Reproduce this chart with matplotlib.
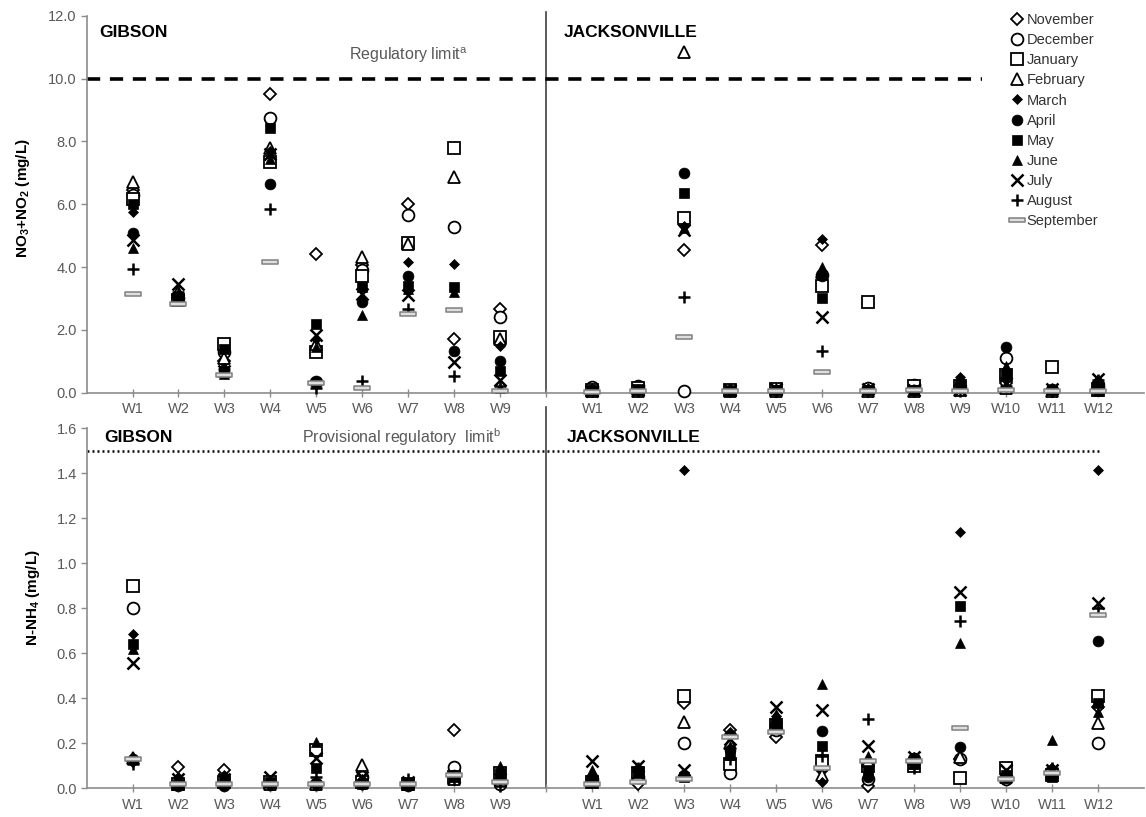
import numpy as np
import matplotlib
matplotlib.use("Agg")
import matplotlib.pyplot as plt
from matplotlib.path import Path

plt.rcParams['font.family'] = ['Liberation Sans', 'DejaVu Sans']
plt.rcParams['mathtext.fontset'] = 'custom'
plt.rcParams['mathtext.rm'] = 'Liberation Sans'
plt.rcParams['mathtext.bf'] = 'Liberation Sans:bold'
plt.rcParams['lines.scale_dashes'] = False

# ---------------- data ----------------
months = ["November", "December", "January", "February", "March", "April",
          "May", "June", "July", "August", "September"]
gibson_wells = ["W1", "W2", "W3", "W4", "W5", "W6", "W7", "W8", "W9"]
jack_wells = ["W1", "W2", "W3", "W4", "W5", "W6", "W7", "W8", "W9", "W10", "W11", "W12"]

# NO3+NO2 (mg/L), rows = months (Nov..Sep), cols = wells
no3_gibson = [
    [6.45, 3.10, 1.00, 9.50, 4.42, 4.05, 6.00, 1.72, 2.65],
    [6.30, 3.00, 1.30, 8.75, 0.35, 3.90, 5.65, 5.28, 2.40],
    [6.15, 2.95, 1.55, 7.35, 1.30, 3.70, 4.78, 7.80, 1.77],
    [6.72, 3.20, 1.10, 7.80, 1.55, 4.32, 4.72, 6.87, 1.70],
    [5.76, 3.10, 0.80, 7.70, 1.70, 3.00, 4.16, 4.11, 1.50],
    [5.07, 3.00, 0.70, 6.63, 0.35, 2.90, 3.72, 1.34, 1.02],
    [6.00, 3.05, 1.40, 8.42, 2.20, 3.36, 3.40, 3.35, 0.70],
    [4.60, 3.00, 0.60, 7.45, 1.45, 2.46, 3.30, 3.20, 0.15],
    [4.85, 3.45, 0.70, 7.60, 1.85, 3.15, 3.10, 0.97, 0.40],
    [3.93, 3.20, 0.75, 5.84, 0.15, 0.38, 2.68, 0.54, 0.20],
    [3.14, 2.82, 0.55, 4.16, 0.30, 0.16, 2.52, 2.62, 0.05],
]
no3_jack = [
    [0.10, 0.10, 4.53, 0.05, 0.05, 4.70, 0.05, 0.10, 0.20, 0.30, 0.05, 0.30],
    [0.18, 0.20, 0.05, 0.10, 0.10, 3.75, 0.15, 0.25, 0.15, 1.10, 0.10, 0.20],
    [0.10, 0.15, 5.55, 0.10, 0.12, 3.40, 2.90, 0.20, 0.20, 0.55, 0.82, 0.10],
    [0.05, 0.05, 10.86, 0.05, 0.05, 3.85, 0.05, 0.05, 0.10, 0.15, 0.05, 0.35],
    [0.12, 0.10, 5.30, 0.12, 0.10, 4.88, 0.12, 0.10, 0.50, 0.40, 0.10, 0.40],
    [0.10, 0.10, 6.98, 0.08, 0.08, 3.72, 0.10, 0.08, 0.30, 1.47, 0.10, 0.30],
    [0.08, 0.12, 6.36, 0.05, 0.10, 3.00, 0.08, 0.10, 0.15, 0.55, 0.08, 0.05],
    [0.15, 0.10, 5.25, 0.12, 0.15, 4.00, 0.15, 0.10, 0.25, 0.85, 0.15, 0.35],
    [0.05, 0.08, 5.17, 0.10, 0.12, 2.40, 0.12, 0.08, 0.10, 0.30, 0.12, 0.45],
    [0.05, 0.05, 3.06, 0.10, 0.05, 1.34, 0.10, 0.05, 0.05, 0.20, 0.05, 0.40],
    [0.02, 0.05, 1.78, 0.05, 0.05, 0.65, 0.05, 0.10, 0.05, 0.10, 0.05, 0.05],
]
# N-NH4 (mg/L)
nh4_gibson = [
    [0.120, 0.095, 0.080, 0.020, 0.020, 0.030, 0.020, 0.258, 0.030],
    [0.800, 0.030, 0.020, 0.020, 0.020, 0.050, 0.020, 0.095, 0.020],
    [0.900, 0.020, 0.030, 0.030, 0.170, 0.030, 0.020, 0.050, 0.070],
    [0.135, 0.020, 0.030, 0.020, 0.020, 0.102, 0.020, 0.040, 0.050],
    [0.685, 0.050, 0.060, 0.030, 0.020, 0.040, 0.030, 0.050, 0.060],
    [0.130, 0.010, 0.010, 0.020, 0.020, 0.020, 0.010, 0.060, 0.040],
    [0.640, 0.020, 0.040, 0.030, 0.088, 0.020, 0.020, 0.050, 0.070],
    [0.620, 0.050, 0.050, 0.030, 0.206, 0.030, 0.030, 0.060, 0.100],
    [0.555, 0.040, 0.040, 0.050, 0.133, 0.050, 0.030, 0.050, 0.040],
    [0.110, 0.030, 0.030, 0.020, 0.050, 0.020, 0.040, 0.040, 0.010],
    [0.130, 0.020, 0.020, 0.020, 0.020, 0.020, 0.020, 0.060, 0.030],
]
nh4_jack = [
    [0.03, 0.02, 0.380, 0.26, 0.23, 0.080, 0.01, 0.12, 0.130, 0.05, 0.080, 0.360],
    [0.04, 0.05, 0.200, 0.07, 0.26, 0.100, 0.04, 0.13, 0.130, 0.04, 0.070, 0.200],
    [0.03, 0.07, 0.410, 0.11, 0.28, 0.120, 0.10, 0.10, 0.045, 0.09, 0.060, 0.410],
    [0.05, 0.06, 0.295, 0.20, 0.30, 0.060, 0.12, 0.13, 0.140, 0.05, 0.070, 0.290],
    [0.06, 0.09, 1.415, 0.25, 0.32, 0.030, 0.06, 0.14, 1.140, 0.06, 0.090, 1.415],
    [0.04, 0.08, 0.060, 0.17, 0.30, 0.255, 0.05, 0.12, 0.185, 0.05, 0.060, 0.655],
    [0.03, 0.07, 0.050, 0.15, 0.27, 0.190, 0.08, 0.11, 0.810, 0.06, 0.050, 0.380],
    [0.08, 0.08, 0.065, 0.19, 0.33, 0.465, 0.145, 0.13, 0.645, 0.07, 0.215, 0.340],
    [0.12, 0.10, 0.080, 0.22, 0.36, 0.350, 0.19, 0.14, 0.873, 0.08, 0.080, 0.825],
    [0.05, 0.09, 0.060, 0.13, 0.29, 0.145, 0.31, 0.09, 0.745, 0.06, 0.090, 0.800],
    [0.02, 0.03, 0.040, 0.23, 0.25, 0.090, 0.12, 0.12, 0.268, 0.04, 0.070, 0.770],
]
no3_limit = 10.0
nh4_limit = 1.5

# ---------------- styles ----------------
bar_marker = Path([(-1, -0.3), (1, -0.3), (1, 0.3), (-1, 0.3), (-1, -0.3)],
                  [Path.MOVETO, Path.LINETO, Path.LINETO, Path.LINETO, Path.CLOSEPOLY])
styles = [
    dict(marker='D', ms=6.0, mfc='white', mec='black', mew=1.3),
    dict(marker='o', ms=8.5, mfc='white', mec='black', mew=1.3),
    dict(marker='s', ms=8.0, mfc='white', mec='black', mew=1.3),
    dict(marker='^', ms=8.5, mfc='white', mec='black', mew=1.3),
    dict(marker='D', ms=4.6, mfc='black', mec='black', mew=0.5),
    dict(marker='o', ms=7.8, mfc='black', mec='black', mew=0.5),
    dict(marker='s', ms=7.2, mfc='black', mec='black', mew=0.5),
    dict(marker='^', ms=6.8, mfc='black', mec='black', mew=0.5),
    dict(marker='x', ms=8.0, mfc='black', mec='black', mew=1.8),
    dict(marker='+', ms=8.5, mfc='black', mec='black', mew=1.8),
    dict(marker=bar_marker, ms=11.5, mfc='#dedede', mec='#808080', mew=1.1),
]

gx = np.arange(1, len(gibson_wells) + 1)
divider = len(gibson_wells) + 1
jx = np.arange(divider + 1, divider + 1 + len(jack_wells))
xmax = jx[-1] + 1

grey = '#595959'
spine_c = '#8c8c8c'

fig = plt.figure(figsize=(11.46, 8.17), dpi=100)
ax1 = fig.add_axes([0.07548, 0.51934, 0.92321, 0.46144])
ax2 = fig.add_axes([0.07548, 0.03513, 0.92321, 0.44064])


def style_axes(ax, ymax, ystep, fmt):
    ax.set_xlim(0, xmax)
    ax.set_ylim(0, ymax)
    for s in ['top', 'right']:
        ax.spines[s].set_visible(False)
    for s in ['left', 'bottom']:
        ax.spines[s].set_color(spine_c)
        ax.spines[s].set_linewidth(1.2)
    ticks = list(gx) + [divider] + list(jx)
    labels = list(gibson_wells) + [''] + list(jack_wells)
    ax.set_xticks(ticks)
    ax.set_xticklabels(labels)
    ax.tick_params(axis='x', direction='inout', length=6, width=1, color=spine_c,
                   labelsize=10.5, labelcolor=grey, pad=4)
    yt = np.arange(0, ymax + ystep / 2, ystep)
    ax.set_yticks(yt)
    ax.set_yticklabels([fmt % v for v in yt])
    ax.tick_params(axis='y', direction='out', length=4, width=1, color=spine_c,
                   labelsize=10.5, labelcolor=grey, pad=3)


style_axes(ax1, 12.0, 2.0, '%.1f')
style_axes(ax2, 1.6, 0.2, '%.1f')

handles = []
for i, m in enumerate(months):
    st = styles[i]
    h, = ax1.plot(gx, no3_gibson[i], ls='none', label=m, zorder=3 + i, clip_on=False, **st)
    ax1.plot(jx, no3_jack[i], ls='none', zorder=3 + i, clip_on=False, **st)
    ax2.plot(gx, nh4_gibson[i], ls='none', zorder=3 + i, clip_on=False, **st)
    ax2.plot(jx, nh4_jack[i], ls='none', zorder=3 + i, clip_on=False, **st)
    handles.append(h)

# limits
ax1.plot([0, 19.47], [no3_limit, no3_limit], color='black', lw=2.6,
         dashes=[9.5, 7.0], solid_capstyle='butt', dash_capstyle='butt', zorder=2)
ax2.plot([0, 22.03], [nh4_limit, nh4_limit], color='black', lw=1.8,
         dashes=[1.4, 2.2], zorder=2)

# divider lines
ax1.axvline(divider, ymin=0, ymax=1.01, color='#404040', lw=1.2, clip_on=False, zorder=1)
ax2.axvline(divider, ymin=0, ymax=1.06, color='#404040', lw=1.2, clip_on=False, zorder=1)

# texts
title_fs = 12.5
ax1.text(0.012, 0.955, 'GIBSON', transform=ax1.transAxes, fontsize=title_fs,
         fontweight='bold', va='center', ha='left')
ax1.text(0.4515, 0.955, 'JACKSONVILLE', transform=ax1.transAxes, fontsize=title_fs,
         fontweight='bold', va='center', ha='left')
ax2.text(0.017, 0.975, 'GIBSON', transform=ax2.transAxes, fontsize=title_fs,
         fontweight='bold', va='center', ha='left')
ax2.text(0.4535, 0.975, 'JACKSONVILLE', transform=ax2.transAxes, fontsize=title_fs,
         fontweight='bold', va='center', ha='left')
ax1.text(7.0, 10.75, 'Regulatory limit$^\\mathrm{a}$', fontsize=11.5, color=grey,
         ha='center', va='center')
ax2.text(6.85, 1.56, 'Provisional regulatory  limit$^\\mathrm{b}$', fontsize=11.5,
         color=grey, ha='center', va='center')

ax1.set_ylabel('NO$_\\mathbf{3}$+NO$_\\mathbf{2}$ (mg/L)', fontsize=11, fontweight='bold')
ax1.yaxis.set_label_coords(-0.0515, 0.516)
ax2.set_ylabel('N-NH$_\\mathbf{4}$ (mg/L)', fontsize=11, fontweight='bold')
ax2.yaxis.set_label_coords(-0.042, 0.531)

leg = ax1.legend(handles=handles, loc='upper left', bbox_to_anchor=(0.8756, 0.993),
                 bbox_transform=fig.transFigure, frameon=False, fontsize=10.5,
                 handlelength=0.8, handletextpad=0.3, labelspacing=0.42,
                 borderpad=0.2, borderaxespad=0.3)
for t in leg.get_texts():
    t.set_color('#333333')

fig.savefig('out.png', dpi=100)
